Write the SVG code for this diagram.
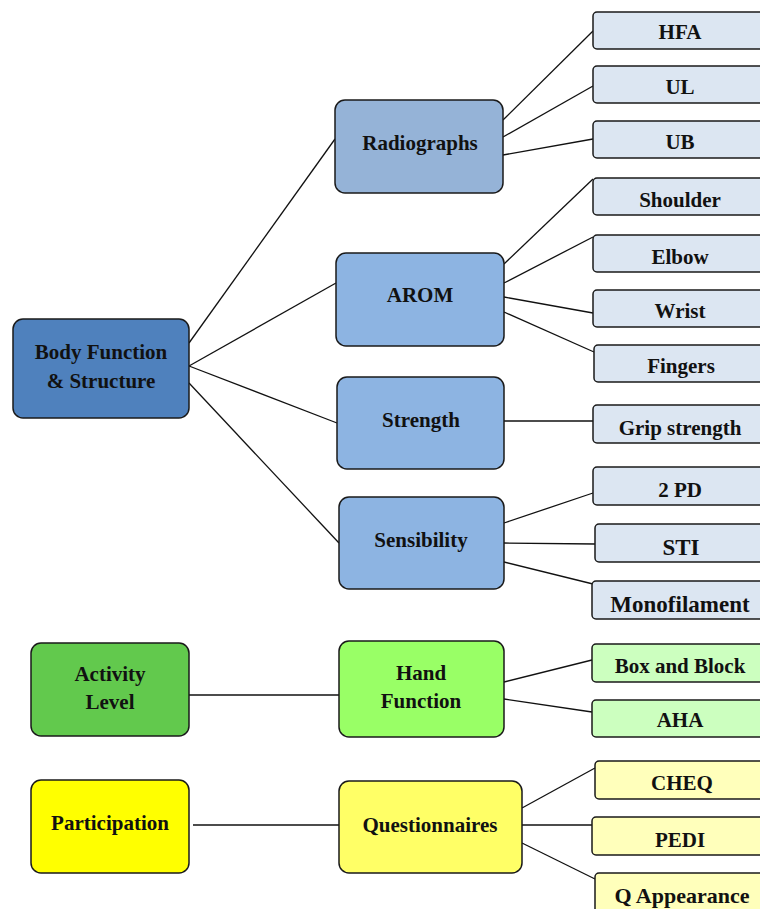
<svg xmlns="http://www.w3.org/2000/svg" width="760" height="909" viewBox="0 0 760 909">
<style>
rect{stroke:#1a1a1a;stroke-width:1.5}
.big{rx:10;ry:10}
.sm{rx:4;ry:4}
text{font-family:"Liberation Serif","Times New Roman",serif;font-weight:bold;font-size:21px;fill:#111;text-anchor:middle}
#connectors line{stroke:#111;stroke-width:1.3}
.c1{fill:#4F81BD}.c2{fill:#95B3D7}.c3{fill:#8DB4E2}.c4{fill:#DCE6F2}
.g1{fill:#62C94D}.g2{fill:#99FF66}.g3{fill:#CCFFBF}
.y1{fill:#FFFF00}.y2{fill:#FFFF66}.y3{fill:#FFFFBB}
</style>
<rect width="760" height="909" fill="#fff" style="stroke:none"/>
<g id="connectors">
<line x1="189" y1="343" x2="335" y2="139"/>
<line x1="189" y1="366" x2="336" y2="283"/>
<line x1="189" y1="366" x2="337" y2="423"/>
<line x1="189" y1="383" x2="339" y2="543"/>
<line x1="503" y1="120" x2="593" y2="31"/>
<line x1="503" y1="137" x2="593" y2="86"/>
<line x1="503" y1="155" x2="593" y2="139"/>
<line x1="504" y1="264" x2="593" y2="179"/>
<line x1="504" y1="283" x2="593" y2="237"/>
<line x1="504" y1="297" x2="593" y2="313"/>
<line x1="504" y1="312" x2="594" y2="352"/>
<line x1="504" y1="421" x2="593" y2="421"/>
<line x1="504" y1="523" x2="593" y2="493"/>
<line x1="504" y1="543" x2="595" y2="544"/>
<line x1="504" y1="562" x2="593" y2="584"/>
<line x1="189" y1="695" x2="339" y2="695"/>
<line x1="504" y1="682" x2="592" y2="660"/>
<line x1="504" y1="699" x2="592" y2="712"/>
<line x1="193" y1="825" x2="339" y2="825"/>
<line x1="522" y1="808" x2="595" y2="768"/>
<line x1="522" y1="825" x2="592" y2="825"/>
<line x1="522" y1="843" x2="595" y2="879"/>
</g>
<g id="body"><rect class="big c1" x="13" y="319" width="176" height="99"/><text x="101" y="359">Body Function</text><text x="101" y="388">&amp; Structure</text></g>
<g id="radiographs"><rect class="big c2" x="335" y="100" width="168" height="93"/><text x="420" y="150">Radiographs</text></g>
<g id="arom"><rect class="big c3" x="336" y="253" width="168" height="93"/><text x="420" y="302">AROM</text></g>
<g id="strength"><rect class="big c3" x="337" y="377" width="167" height="92"/><text x="421" y="427">Strength</text></g>
<g id="sensibility"><rect class="big c3" x="339" y="497" width="165" height="92"/><text x="421" y="547">Sensibility</text></g>
<g id="hfa"><rect class="sm c4" x="593" y="12" width="180" height="37"/><text x="680" y="39">HFA</text></g>
<g id="ul"><rect class="sm c4" x="593" y="66" width="180" height="37"/><text x="680" y="94">UL</text></g>
<g id="ub"><rect class="sm c4" x="593" y="121" width="180" height="37"/><text x="680" y="149">UB</text></g>
<g id="shoulder"><rect class="sm c4" x="593" y="178" width="180" height="37"/><text x="680" y="207">Shoulder</text></g>
<g id="elbow"><rect class="sm c4" x="593" y="235" width="180" height="37"/><text x="680" y="264">Elbow</text></g>
<g id="wrist"><rect class="sm c4" x="593" y="290" width="180" height="37"/><text x="680" y="318">Wrist</text></g>
<g id="fingers"><rect class="sm c4" x="594" y="345" width="180" height="37"/><text x="681" y="373">Fingers</text></g>
<g id="grip"><rect class="sm c4" x="593" y="405" width="180" height="38"/><text x="680" y="435">Grip strength</text></g>
<g id="pd2"><rect class="sm c4" x="593" y="467" width="180" height="38"/><text x="680" y="497">2 PD</text></g>
<g id="sti"><rect class="sm c4" x="595" y="524" width="180" height="38"/><text x="681" y="555" style="font-size:23px">STI</text></g>
<g id="mono"><rect class="sm c4" x="592" y="581" width="180" height="38"/><text x="680" y="612" style="font-size:23px">Monofilament</text></g>
<g id="activity"><rect class="big g1" x="31" y="643" width="158" height="93"/><text x="110" y="681">Activity</text><text x="110" y="709">Level</text></g>
<g id="hand"><rect class="big g2" x="339" y="641" width="165" height="96"/><text x="421" y="680">Hand</text><text x="421" y="708">Function</text></g>
<g id="boxblock"><rect class="sm g3" x="592" y="644" width="180" height="38"/><text x="680" y="673">Box and Block</text></g>
<g id="aha"><rect class="sm g3" x="592" y="700" width="180" height="37"/><text x="680" y="727">AHA</text></g>
<g id="participation"><rect class="big y1" x="31" y="780" width="158" height="93"/><text x="110" y="830">Participation</text></g>
<g id="questionnaires"><rect class="big y2" x="339" y="781" width="183" height="92"/><text x="430" y="832">Questionnaires</text></g>
<g id="cheq"><rect class="sm y3" x="595" y="761" width="180" height="38"/><text x="682" y="790">CHEQ</text></g>
<g id="pedi"><rect class="sm y3" x="592" y="817" width="180" height="38"/><text x="680" y="847">PEDI</text></g>
<g id="qapp"><rect class="sm y3" x="595" y="873" width="180" height="40"/><text x="682" y="903" style="font-size:22px">Q Appearance</text></g>
</svg>
